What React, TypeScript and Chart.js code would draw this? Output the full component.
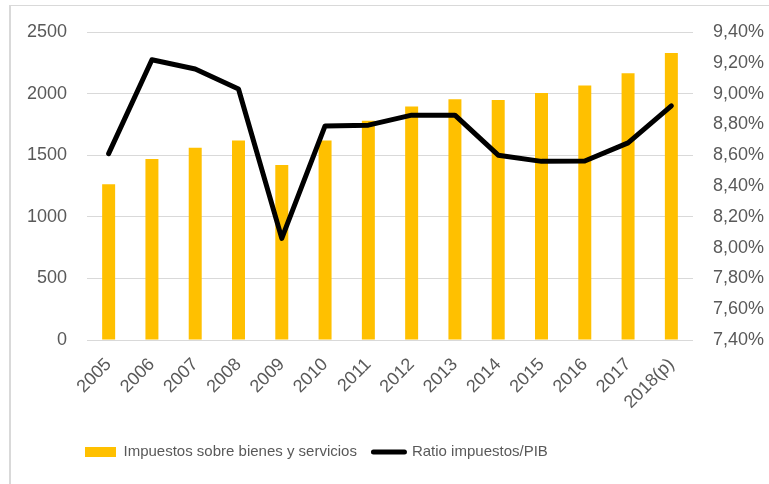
import React, { useEffect, useRef } from "react";
import { Chart, registerables } from "chart.js";

Chart.register(...registerables);

const categories = ["2005", "2006", "2007", "2008", "2009", "2010", "2011", "2012", "2013", "2014", "2015", "2016", "2017", "2018(p)"];
const impuestos = [1265, 1470, 1560, 1620, 1420, 1620, 1780, 1895, 1955, 1948, 2005, 2065, 2165, 2330];
const ratioPIB = [8.61, 9.22, 9.16, 9.03, 8.06, 8.79, 8.795, 8.86, 8.86, 8.6, 8.56, 8.562, 8.68, 8.92];
const seriesNames = ["Impuestos sobre bienes y servicios", "Ratio impuestos/PIB"];

const GOLD = "#FFC000";
const TEXT = "#595959";
const GRID = "#D9D9D9";
const AXIS_FONT = "'Liberation Sans', Arial, sans-serif";

export default function App() {
  const ref = useRef<HTMLCanvasElement | null>(null);

  useEffect(() => {
    if (!ref.current) return;
    const legendShift = {
      id: "legendShift",
      afterLayout(chart: any) {
        if (chart.legend) {
          chart.legend.left = 68.5;
        }
      },
    };
    const chart = new Chart(ref.current, {
      type: "bar",
      data: {
        labels: categories,
        datasets: [
          {
            type: "bar",
            label: seriesNames[0],
            data: impuestos,
            backgroundColor: GOLD,
            borderWidth: 0,
            categoryPercentage: 1,
            barPercentage: 0.3,
            yAxisID: "y",
            order: 1,
          } as any,
          {
            type: "line",
            label: seriesNames[1],
            data: ratioPIB,
            borderColor: "#000000",
            backgroundColor: "#000000",
            borderWidth: 5,
            pointRadius: 0,
            pointHoverRadius: 0,
            tension: 0,
            borderJoinStyle: "round",
            borderCapStyle: "round",
            yAxisID: "y1",
            order: 0,
          } as any,
        ],
      },
      options: {
        responsive: false,
        animation: false,
        layout: { padding: { top: 32, left: 0, right: 0, bottom: 14.5 } },
        plugins: {
          tooltip: { enabled: false },
          legend: {
            position: "bottom",
            align: "start",
            labels: {
              usePointStyle: true,
              pointStyleWidth: 31,
              boxWidth: 31,
              boxHeight: 10,
              padding: 16.5,
              color: TEXT,
              font: { family: AXIS_FONT, size: 15 },
              generateLabels: () => [
                {
                  text: seriesNames[0],
                  fillStyle: GOLD,
                  strokeStyle: GOLD,
                  lineWidth: 0,
                  pointStyle: "rect",
                  fontColor: TEXT,
                  hidden: false,
                  datasetIndex: 0,
                },
                {
                  text: seriesNames[1],
                  fillStyle: "#000000",
                  strokeStyle: "#000000",
                  lineWidth: 5,
                  lineCap: "round",
                  pointStyle: "line",
                  fontColor: TEXT,
                  hidden: false,
                  datasetIndex: 1,
                },
              ],
            },
          },
        },
        scales: {
          x: {
            offset: true,
            grid: { display: false, drawTicks: false },
            border: { display: false },
            ticks: {
              autoSkip: false,
              minRotation: 45,
              maxRotation: 45,
              padding: 14,
              color: TEXT,
              font: { family: AXIS_FONT, size: 18 },
            },
            afterFit: (s: any) => {
              s.height = 88;
            },
          },
          y: {
            position: "left",
            min: 0,
            max: 2500,
            grid: { color: GRID, lineWidth: 1, drawTicks: false },
            border: { display: false },
            ticks: {
              stepSize: 500,
              padding: 20,
              color: TEXT,
              font: { family: AXIS_FONT, size: 18 },
              callback: (v: any) => String(Math.round(Number(v))),
            },
            afterFit: (s: any) => {
              s.width = 87;
            },
          },
          y1: {
            position: "right",
            min: 7.4,
            max: 9.4,
            grid: { display: false, drawTicks: false },
            border: { display: false },
            ticks: {
              stepSize: 0.2,
              padding: 20,
              color: TEXT,
              font: { family: AXIS_FONT, size: 18 },
              callback: (v: any) => Number(v).toFixed(2).replace(".", ",") + "%",
            },
            afterFit: (s: any) => {
              s.width = 76;
            },
          },
        },
      },
      plugins: [legendShift],
    } as any);
    return () => chart.destroy();
  }, []);

  return (
    <div style={{ position: "fixed", left: 0, top: 0, width: 769, height: 484, background: "#ffffff", overflow: "hidden" }}>
      <div
        style={{
          position: "absolute",
          left: 9,
          top: 5,
          right: -10,
          bottom: -10,
          borderTop: `1px solid ${GRID}`,
          borderLeft: `2px solid ${GRID}`,
        }}
      />
      <canvas ref={ref} width={769} height={484} style={{ position: "absolute", left: 0, top: 0, width: 769, height: 484 }} />
    </div>
  );
}
